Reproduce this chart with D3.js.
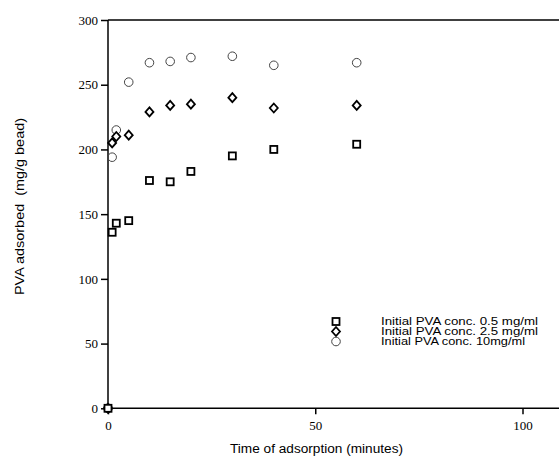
<!DOCTYPE html>
<html>
<head>
<meta charset="utf-8">
<script src="https://cdn.jsdelivr.net/npm/d3@7"></script>
<style>
  body { margin: 0; background: #fff; }
  svg { display: block; }
</style>
</head>
<body>
<script>
// time points (minutes)
let times = [0, 1, 2, 5, 10, 15, 20, 30, 40, 60];
// PVA adsorbed (mg/g bead) for each initial concentration
let conc05 = [0, 136, 143, 145, 176, 175, 183, 195, 200, 204];
let conc25 = [0, 205, 210, 211, 229, 234, 235, 240, 232, 234];
let conc10 = [0, 194, 215, 252, 267, 268, 271, 272, 265, 267];
let seriesNames = ["Initial PVA conc. 0.5 mg/ml", "Initial PVA conc. 2.5 mg/ml", "Initial PVA conc. 10mg/ml"];
let xTicks = [0, 50, 100];
let yTicks = [0, 50, 100, 150, 200, 250, 300];

let svgWidth = 559;
let svgHeight = 458;

let svg = d3.select("body")
    .append("svg")
    .attr("width", svgWidth)
    .attr("height", svgHeight)

let x0 = 108, x100 = 522.5;
let yTop = 20, yBottom = 408.3;
let sans = "'Liberation Sans', Arial, sans-serif";

let xScale = d3.scaleLinear().domain([0, 100]).range([x0, x100]);
let yScale = d3.scaleLinear().domain([0, 300]).range([yBottom, yTop]);

// frame line on top (right side runs off the page)
svg.append("line")
    .attr("x1", x0).attr("x2", svgWidth)
    .attr("y1", yTop).attr("y2", yTop)
    .attr("stroke", "#000").attr("stroke-width", 1.5)

let bottomAxis = d3.axisBottom(xScale).tickValues(xTicks).tickSize(6).tickPadding(6);
let leftAxis = d3.axisLeft(yScale).tickValues(yTicks).tickSize(7).tickPadding(3);

let gx = svg.append("g")
    .attr("transform", `translate(0,${yBottom})`)
    .call(bottomAxis)
gx.select(".domain").remove()
gx.append("line")
    .attr("x1", x0).attr("x2", svgWidth)
    .attr("stroke", "#000").attr("stroke-width", 1.5)

let gy = svg.append("g")
    .attr("transform", `translate(${x0},0)`)
    .call(leftAxis)
gy.select(".domain").remove()
gy.append("line")
    .attr("y1", yTop).attr("y2", yBottom)
    .attr("stroke", "#000").attr("stroke-width", 1.5)

svg.selectAll(".tick line").attr("stroke", "#000").attr("stroke-width", 1.5)
svg.selectAll(".tick text")
    .attr("fill", "#000")
    .style("font-family", "'Liberation Serif', 'Times New Roman', serif")
    .style("font-size", "13px")

// markers
function drawSquare(g, cx, cy) {
    g.append("rect")
        .attr("x", cx - 3.5).attr("y", cy - 3.5)
        .attr("width", 7).attr("height", 7)
        .attr("fill", "#fff").attr("stroke", "#000").attr("stroke-width", 1.8)
}
function drawDiamond(g, cx, cy) {
    g.append("path")
        .attr("d", `M${cx},${cy - 4.5}L${cx + 4},${cy}L${cx},${cy + 4.5}L${cx - 4},${cy}Z`)
        .attr("fill", "#fff").attr("stroke", "#000").attr("stroke-width", 1.8)
}
function drawCircle(g, cx, cy) {
    g.append("circle")
        .attr("cx", cx).attr("cy", cy).attr("r", 4.3)
        .attr("fill", "none").attr("stroke", "#444").attr("stroke-width", 1)
}

let pts = svg.append("g")
times.forEach((t, i) => drawCircle(pts, xScale(t), yScale(conc10[i])))
times.forEach((t, i) => drawDiamond(pts, xScale(t), yScale(conc25[i])))
times.forEach((t, i) => drawSquare(pts, xScale(t), yScale(conc05[i])))

// legend (the scanned text is a bit wider than the font, hence textLength)
let legend = svg.append("g")
let drawers = [drawSquare, drawDiamond, drawCircle]
let legendWidths = [157, 157, 144]
seriesNames.forEach(function (name, i) {
    let cy = 321.5 + i * 10;
    drawers[i](legend, 336, cy);
    legend.append("text")
        .attr("x", 381).attr("y", cy + 3.6)
        .attr("textLength", legendWidths[i])
        .attr("lengthAdjust", "spacingAndGlyphs")
        .style("font-family", sans)
        .style("font-size", "10px")
        .text(name)
})

// axis titles
svg.append("text")
    .attr("x", 230).attr("y", 453)
    .attr("textLength", 173)
    .attr("lengthAdjust", "spacingAndGlyphs")
    .style("font-family", sans)
    .style("font-size", "12px")
    .text("Time of adsorption (minutes)")

svg.append("text")
    .attr("transform", "translate(24,295) rotate(-90)")
    .attr("textLength", 177)
    .attr("lengthAdjust", "spacingAndGlyphs")
    .style("font-family", sans)
    .style("font-size", "12px")
    .style("white-space", "pre")
    .text("PVA adsorbed  (mg/g bead)")
</script>
</body>
</html>
